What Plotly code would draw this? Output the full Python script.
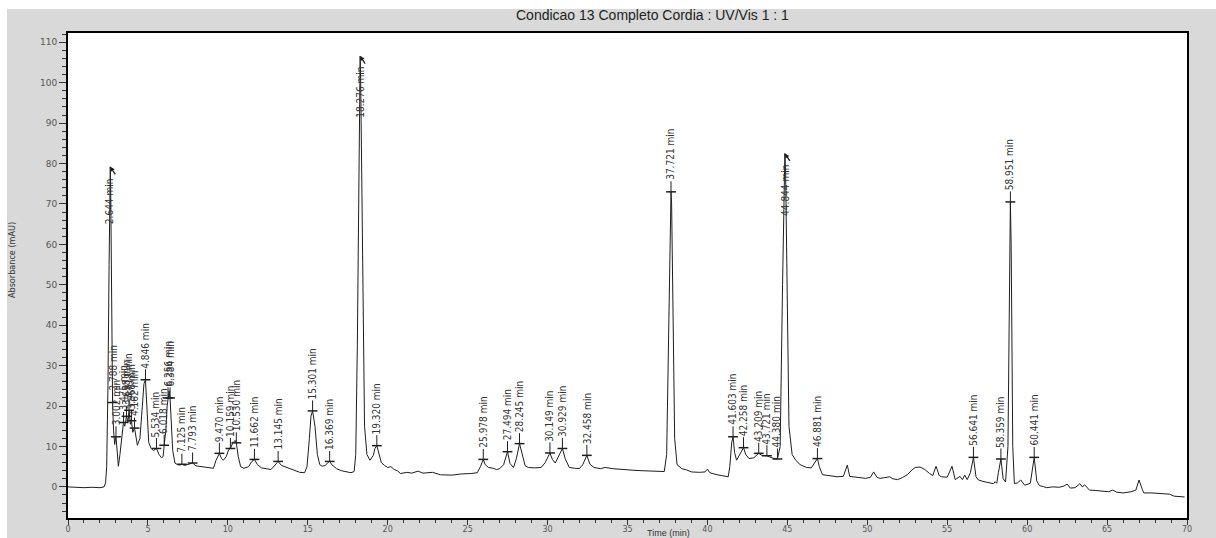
import numpy as np
import plotly.graph_objects as go

# ---------------- data ----------------
trace_t = [0.0, 0.5, 1.0, 1.5, 2.0, 2.25, 2.35, 2.42, 2.50, 2.57, 2.62, 2.644, 2.67, 2.71, 2.75, 2.79,
           2.85, 2.92, 3.0, 3.08, 3.15, 3.25, 3.35, 3.47, 3.55, 3.66, 3.75, 3.82, 3.90, 3.97, 4.05, 4.16,
           4.34, 4.50, 4.65, 4.75, 4.846, 4.95, 5.05, 5.20, 5.35, 5.534, 5.7, 5.85, 5.95, 6.018, 6.12, 6.20,
           6.256, 6.33, 6.384, 6.45, 6.55, 6.69, 6.85, 7.0, 7.125, 7.3, 7.5, 7.793, 8.0, 8.3, 8.6, 8.9,
           9.1, 9.25, 9.47, 9.6, 9.72, 9.9, 10.05, 10.159, 10.30, 10.45, 10.53, 10.65, 10.8, 11.0, 11.3, 11.5,
           11.662, 11.85, 12.1, 12.4, 12.7, 12.95, 13.145, 13.35, 13.6, 13.9, 14.2, 14.5, 14.8, 14.95, 15.1, 15.2,
           15.301, 15.45, 15.6, 15.75, 15.9, 16.1, 16.25, 16.369, 16.5, 16.8, 17.1, 17.4, 17.7, 17.9, 18.0, 18.10,
           18.18, 18.24, 18.276, 18.31, 18.37, 18.45, 18.55, 18.7, 18.89, 19.1, 19.2, 19.32, 19.45, 19.6, 19.8, 20.0,
           20.2, 20.4, 20.6, 20.8, 21.2, 21.5, 21.9, 22.2, 22.8, 23.3, 24.0, 24.6, 25.2, 25.6, 25.8, 25.978,
           26.1, 26.3, 26.6, 26.8, 27.0, 27.25, 27.494, 27.65, 27.87, 28.05, 28.245, 28.4, 28.6, 28.8, 29.2, 29.6,
           29.85, 30.149, 30.3, 30.48, 30.7, 30.929, 31.1, 31.36, 31.7, 32.0, 32.2, 32.458, 32.65, 32.9, 33.3, 33.6,
           34.1, 34.6, 35.0, 35.4, 35.9, 36.4, 37.05, 37.3, 37.45, 37.58, 37.68, 37.721, 37.76, 37.85, 37.95, 38.1,
           38.4, 38.7, 39.0, 39.5, 39.85, 40.0, 40.15, 40.6, 41.0, 41.3, 41.4, 41.52, 41.603, 41.7, 41.82, 42.0,
           42.258, 42.4, 42.6, 42.9, 43.209, 43.4, 43.721, 43.9, 44.1, 44.38, 44.55, 44.7, 44.80, 44.844, 44.89, 44.98,
           45.1, 45.3, 45.52, 45.8, 46.2, 46.5, 46.7, 46.881, 47.0, 47.2, 47.6, 48.1, 48.5, 48.75, 48.9, 49.2,
           49.5, 49.9, 50.2, 50.4, 50.6, 50.8, 51.1, 51.4, 51.6, 51.9, 52.2, 52.5, 52.8, 53.0, 53.3, 53.6,
           53.9, 54.1, 54.3, 54.5, 54.65, 55.0, 55.3, 55.5, 55.8, 55.95, 56.1, 56.25, 56.45, 56.641, 56.8, 56.95,
           57.3, 57.6, 57.9, 58.0, 58.1, 58.2, 58.359, 58.5, 58.65, 58.8, 58.9, 58.951, 59.0, 59.1, 59.2, 59.4,
           59.6, 59.85, 60.2, 60.441, 60.6, 60.77, 61.0, 61.2, 61.6, 62.0, 62.3, 62.5, 62.7, 63.0, 63.3, 63.45,
           63.6, 63.9, 64.3, 64.7, 65.1, 65.35, 65.6, 66.0, 66.5, 66.8, 67.0, 67.2, 67.3, 67.8, 68.3, 68.9,
           69.2, 69.5, 69.85]
trace_a = [0.0, -0.1, -0.2, -0.1, -0.2, 0.0, 1.0, 5, 25, 55, 77, 79.2, 74, 50, 28, 20.5,
           14, 10.5, 12.5, 8, 5.1, 8, 12, 16, 15, 17.5, 16, 19, 15.5, 16.4, 13.5, 14.6,
           10.3, 12, 20, 25.5, 26.5, 18, 11, 9.5, 9.0, 9.5, 8.0, 7.2, 7.5, 10.3, 14, 20,
           22.0, 23.8, 22.0, 16, 9, 5.9, 5.5, 5.4, 5.6, 5.3, 5.5, 5.9, 5.2, 5.0, 4.8, 4.6,
           4.6, 6.5, 8.3, 7.0, 6.6, 7.5, 9.2, 9.5, 10.8, 11.5, 10.9, 7.5, 5.0, 4.6, 5.0, 6.3,
           6.8, 5.5, 4.7, 4.5, 4.3, 5.4, 6.3, 5.3, 4.9, 4.4, 4.1, 3.6, 3.5, 5, 12, 17.5,
           18.8, 15, 8, 5.5, 5.1, 5.3, 6.0, 6.3, 5.5, 4.5, 4.0, 3.7, 3.5, 3.8, 8, 35,
           75, 100, 106.6, 100, 75, 40, 15, 8, 6.6, 7.8, 9.5, 10.2, 8.5, 6.0, 5.3, 4.8,
           5.0, 4.3, 4.0, 3.3, 3.6, 3.4, 3.9, 3.4, 3.6, 3.0, 2.9, 3.2, 3.3, 3.5, 5.0, 6.8,
           5.5, 4.8, 4.6, 4.3, 4.5, 5.5, 8.7, 5.8, 4.8, 7.0, 10.7, 8.0, 5.2, 4.8, 4.7, 4.8,
           6.0, 8.4, 6.8, 5.9, 7.5, 9.5, 7.0, 4.8, 4.6, 4.55, 5.5, 7.8, 5.6, 4.8, 4.5, 4.8,
           4.5, 4.3, 4.2, 4.1, 4.0, 3.9, 3.7, 3.8, 8, 40, 70, 73.0, 70, 40, 12, 5.5,
           4.5, 4.2, 3.7, 3.6, 3.7, 4.4, 3.5, 3.0, 2.7, 2.5, 5, 11, 12.4, 8.5, 6.6, 7.8,
           9.7, 8.0, 7.0, 7.2, 8.3, 7.8, 7.7, 7.4, 7.1, 6.9, 10, 50, 78, 82.5, 78, 45,
           15, 8, 6.6, 5.5, 4.8, 4.7, 5.8, 7.0, 5.0, 3.0, 2.8, 2.5, 2.6, 5.4, 2.6, 2.5,
           2.4, 2.1, 2.4, 3.7, 2.4, 2.1, 2.3, 2.5, 2.0, 1.8, 2.3, 3.0, 4.2, 4.8, 4.9, 4.3,
           3.3, 2.8, 5.1, 2.8, 2.5, 2.4, 5.1, 1.8, 2.6, 1.8, 2.9, 1.8, 3.5, 7.3, 2.5, 1.7,
           1.3, 1.1, 0.8, 1.3, 0.9, 3.5, 6.9, 2.0, 1.2, 10, 60, 70.5, 60, 10, 0.8, 1.0,
           1.7, 0.4, 0.9, 7.3, 1.5, 0.3, 0.1, -0.2, 0.0, -0.1, 0.2, 0.7, -0.3, -0.2, 0.8, 0.0,
           0.5, -0.8, -0.9, -1.1, -1.2, -0.8, -1.3, -1.5, -1.2, -0.8, 1.7, -0.6, -1.5, -1.5, -1.6, -1.8,
           -2.3, -2.4, -2.5]

# labelled peaks (retention times, min)
peak_times = [2.788, 3.002, 3.475, 3.658, 3.819, 3.968, 4.162, 4.846, 5.534, 6.018, 6.256, 6.384,
              7.125, 7.793, 9.470, 10.159, 10.530, 11.662, 13.145, 15.301, 16.369, 19.320,
              25.978, 27.494, 28.245, 30.149, 30.929, 32.458, 37.721, 41.603, 42.258, 43.209,
              43.721, 44.380, 46.881, 56.641, 58.359, 58.951, 60.441]
# peaks so tall that their label is written down the peak itself
tall_peak_times = [2.644, 18.276, 44.844]

title_text = "Condicao 13 Completo Cordia : UV/Vis 1 : 1"
x_title = "Time (min)"
y_title = "Absorbance (mAU)"

# ---------------- figure ----------------
LINE = "#1e1e1e"
LABEL_FONT = dict(family="DejaVu Sans Condensed, Liberation Sans Narrow, Arial Narrow, sans-serif",
                  size=10, color="#333333")

peak_y = np.interp(peak_times, trace_t, trace_a)
tall_y = np.interp(tall_peak_times, trace_t, trace_a)
STEM = 2.6

stem_x, stem_y = [], []
for t, y in zip(peak_times, peak_y):
    stem_x += [t, t, None]
    stem_y += [y, y + STEM, None]

fig = go.Figure()
fig.add_trace(go.Scatter(x=trace_t, y=trace_a, mode="lines",
                         line=dict(color=LINE, width=1), hoverinfo="skip"))
fig.add_trace(go.Scatter(x=stem_x, y=stem_y, mode="lines",
                         line=dict(color=LINE, width=1), hoverinfo="skip"))
fig.add_trace(go.Scatter(x=peak_times, y=peak_y, mode="markers", hoverinfo="skip",
                         marker=dict(symbol="line-ew", size=7, color=LINE,
                                     line=dict(width=1.5, color=LINE))))

annotations = []
for t, y in zip(peak_times, peak_y):
    annotations.append(dict(x=t, y=y + STEM, xref="x", yref="y", text=f"{t:.3f} min",
                            textangle=-90, showarrow=False, xanchor="center", yanchor="bottom",
                            font=LABEL_FONT, borderpad=0))
for t, y in zip(tall_peak_times, tall_y):
    annotations.append(dict(x=t, y=y - 2.5, xref="x", yref="y", text=f"{t:.3f} min",
                            textangle=-90, showarrow=False, xanchor="center", yanchor="top",
                            font=LABEL_FONT, borderpad=0))
    annotations.append(dict(x=t, y=y, xref="x", yref="y", text="", showarrow=True,
                            ax=6, ay=9, arrowhead=2, arrowsize=0.7, arrowwidth=1.3,
                            arrowcolor=LINE))

annotations += [
    dict(x=0.522, y=1.037, xref="paper", yref="paper", text=title_text, showarrow=False,
         xanchor="center", yanchor="middle",
         font=dict(family="Liberation Sans, Arial, sans-serif", size=14, color="#222222")),
    dict(x=0.5165, y=-0.0315, xref="paper", yref="paper", text=x_title, showarrow=False,
         xanchor="left", yanchor="middle", borderpad=0,
         font=dict(family="Liberation Sans, Arial, sans-serif", size=9, color="#333333")),
    dict(x=-0.050, y=0.532, xref="paper", yref="paper", text=y_title, showarrow=False,
         textangle=-90, xanchor="center", yanchor="middle",
         font=dict(family="DejaVu Sans Condensed, Liberation Sans Narrow, sans-serif",
                   size=9, color="#333333")),
]

shapes = [
    dict(type="rect", xref="paper", yref="paper", x0=-0.1, x1=1.1, y0=1.0495, y1=1.2,
         fillcolor="white", line=dict(width=0), layer="below"),
    dict(type="rect", xref="paper", yref="paper", x0=-0.1, x1=-0.0545, y0=-0.2, y1=1.2,
         fillcolor="white", line=dict(width=0), layer="below"),
]

tickfont = dict(family="DejaVu Sans, Liberation Sans, sans-serif", size=8, color="#555555")
fig.update_layout(
    width=1216, height=538,
    margin=dict(l=68, r=29, t=33, b=20, autoexpand=False),
    paper_bgcolor="#d9d9d9", plot_bgcolor="white",
    showlegend=False,
    annotations=annotations, shapes=shapes,
    xaxis=dict(range=[0, 70], tick0=0, dtick=5, ticks="outside", ticklen=5, tickwidth=1,
               tickcolor="#333333", showline=True, linewidth=2, linecolor="black", mirror=True,
               showgrid=False, zeroline=False, tickfont=tickfont, automargin=False,
               ticklabelstandoff=-3,
               minor=dict(dtick=1, ticks="outside", ticklen=3, tickcolor="#333333", showgrid=False)),
    yaxis=dict(range=[-7.7, 112.3], tick0=0, dtick=10, ticks="outside", ticklen=7, tickwidth=1,
               tickcolor="#333333", showline=True, linewidth=2, linecolor="black", mirror=True,
               showgrid=False, zeroline=False, tickfont=dict(tickfont, size=9), automargin=False,
               minor=dict(dtick=2, ticks="outside", ticklen=4, tickcolor="#333333", showgrid=False)),
)

fig.write_html("out.html")
